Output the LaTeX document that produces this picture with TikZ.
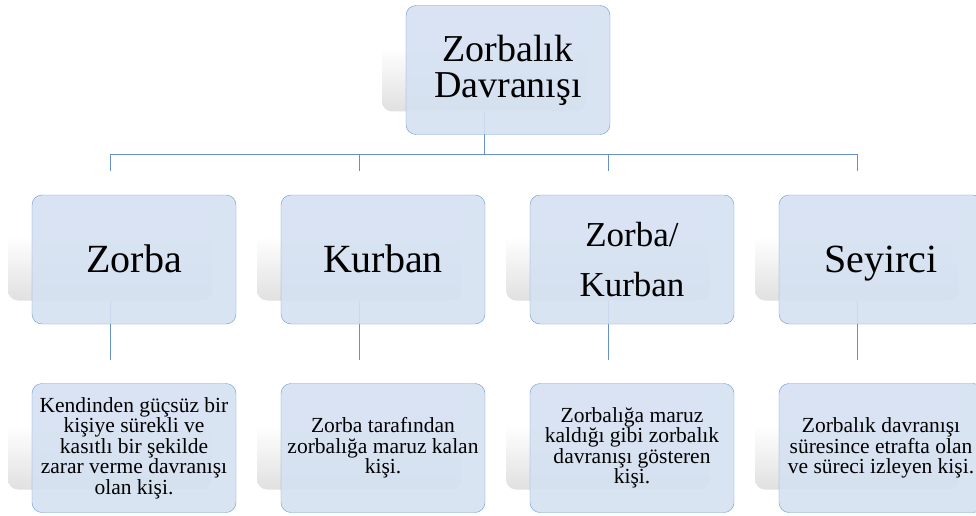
\documentclass[tikz,border=0pt]{standalone}
\usepackage{fontspec}
\setmainfont{Liberation Serif}
\usepackage{xcolor}
\definecolor{boxfill}{HTML}{D5E1F2}
\definecolor{boxline}{HTML}{6A99D0}
\definecolor{linkline}{HTML}{6690C6}
\tikzset{
	ghost/.style={top color=white, bottom color=black!12, middle color=white,
		rounded corners=10pt, minimum width=204pt, minimum height=129pt, inner sep=0pt},
	rolebox/.style={draw=boxline, fill=boxfill, fill opacity=0.9, text opacity=1,
		rounded corners=10pt, minimum width=204pt, minimum height=129pt,
		inner sep=0pt, align=center},
	link/.style={draw=linkline, line width=0.9pt},
	headtext/.style={font=\fontsize{38}{36}\selectfont},
	roletext/.style={font=\fontsize{40}{40}\selectfont, text height=28pt, text depth=3pt},
	twotext/.style={font=\fontsize{35}{50}\selectfont},
	smalltext/.style={font=\fontsize{21.5}{20.5}\selectfont}
}

\begin{document}
\begin{tikzpicture}[x=1pt,y=1pt]
            \useasboundingbox (0,0) rectangle (976,515);
            % grey back shapes
            \node[ghost] (gtop) at (484,468) {};
            \node[ghost] (g1) at (110,279) {};
            \node[ghost] (g2) at (359,279) {};
            \node[ghost] (g3) at (608,279) {};
            \node[ghost] (g4) at (857,279) {};
            \node[ghost] (h1) at (110,90) {};
            \node[ghost] (h2) at (359,90) {};
            \node[ghost] (h3) at (608,90) {};
            \node[ghost] (h4) at (857,90) {};
            % connectors
            \coordinate (bus) at (0,361);
            \draw[link] (gtop.south) -- (gtop.south |- bus);
            \draw[link] (g1.north |- bus) -- (g4.north |- bus);
            \draw[link] (g1.north |- bus) -- (g1.north);
            \draw[link] (g2.north |- bus) -- (g2.north);
            \draw[link] (g3.north |- bus) -- (g3.north);
            \draw[link] (g4.north |- bus) -- (g4.north);
            \draw[link] (g1.south) -- (h1.north);
            \draw[link] (g2.south) -- (h2.north);
            \draw[link] (g3.south) -- (h3.north);
            \draw[link] (g4.south) -- (h4.north);
            % boxes
            \node[rolebox, headtext] (top) at (508,445) {Zorbalık\\Davranışı};
            \node[rolebox, roletext] (zorba) at (134,255.5) {Zorba};
            \node[rolebox, roletext] (kurban) at (383,255.5) {Kurban};
            \node[rolebox, twotext] (zk) at (632,255.5) {Zorba/\\Kurban};
            \node[rolebox, roletext] (seyirci) at (881,255.5) {Seyirci};
            \node[rolebox, smalltext] (d1) at (134,67) {Kendinden güçsüz bir\\kişiye sürekli ve\\kasıtlı bir şekilde\\zarar verme davranışı\\olan kişi.};
            \node[rolebox, smalltext] (d2) at (383,67) {Zorba tarafından\\zorbalığa maruz kalan\\kişi.};
            \node[rolebox, smalltext] (d3) at (632,67) {Zorbalığa maruz\\kaldığı gibi zorbalık\\davranışı gösteren\\kişi.};
            \node[rolebox, smalltext] (d4) at (881,67) {Zorbalık davranışı\\süresince etrafta olan\\ve süreci izleyen kişi.};
        \end{tikzpicture}
\end{document}
